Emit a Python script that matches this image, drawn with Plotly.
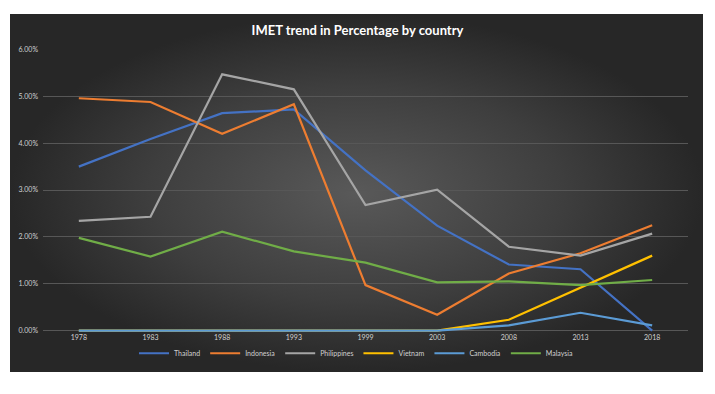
import plotly.graph_objects as go

years = ["1978", "1983", "1988", "1993", "1999", "2003", "2008", "2013", "2018"]
thailand    = [0.0350, 0.0409, 0.0464, 0.0472, 0.0342, 0.0224, 0.0141, 0.0131, 0.0000]
indonesia   = [0.0496, 0.0488, 0.0420, 0.0483, 0.0097, 0.0034, 0.0122, 0.0165, 0.0225]
philippines = [0.0234, 0.0243, 0.0547, 0.0515, 0.0268, 0.0301, 0.0179, 0.0160, 0.0207]
vietnam     = [0.0000, 0.0000, 0.0000, 0.0000, 0.0000, 0.0000, 0.0023, 0.0091, 0.0160]
cambodia    = [0.0000, 0.0000, 0.0000, 0.0000, 0.0000, 0.0000, 0.0011, 0.0038, 0.0011]
malaysia    = [0.0198, 0.0158, 0.0211, 0.0169, 0.0145, 0.0103, 0.0105, 0.0097, 0.0108]

series = [
    ("Thailand", thailand, "#4472C4"),
    ("Indonesia", indonesia, "#ED7D31"),
    ("Philippines", philippines, "#A5A5A5"),
    ("Vietnam", vietnam, "#FFC000"),
    ("Cambodia", cambodia, "#5B9BD5"),
    ("Malaysia", malaysia, "#70AD47"),
]
y_ticks = [0, 0.01, 0.02, 0.03, 0.04, 0.05, 0.06]

FONT = "Lato, 'Open Sans', sans-serif"

# pixel geometry of the value axis (285 px for 6 %)
PX_PER_UNIT = 285 / 0.06
Y_PAD = 0.0004  # small padding below zero so lines at 0 are not clipped

fig = go.Figure()

# background panel with radial gradient
fig.add_trace(go.Scatter(
    x=[0, 1, 1, 0, 0], y=[0, 0, 1, 1, 0],
    xaxis="x", yaxis="y", mode="lines", line=dict(width=0),
    fill="toself",
    fillgradient=dict(type="radial",
                      colorscale=[[0, "#595959"], [0.6, "#3e3e3e"], [1, "#272727"]]),
    hoverinfo="skip", showlegend=False,
))

for name, vals, color in series:
    fig.add_trace(go.Scatter(
        x=years, y=vals, name=name, mode="lines",
        line=dict(color=color, width=2.2),
        xaxis="x2", yaxis="y2",
    ))

fig.update_layout(
    width=715, height=394,
    margin=dict(l=10, r=12, t=9, b=22),
    paper_bgcolor="white",
    plot_bgcolor="rgba(0,0,0,0)",
    font=dict(family=FONT, color="#d0d0d0", size=7),
    title=dict(text="<b>IMET trend in Percentage by country</b>",
               x=0.5, xanchor="center", y=1 - 30 / 394, yanchor="middle",
               font=dict(family=FONT, size=13, color="white")),
    xaxis=dict(domain=[0, 1], range=[0, 1], visible=False, fixedrange=True),
    yaxis=dict(domain=[0, 1], range=[0, 1], visible=False, fixedrange=True),
    xaxis2=dict(domain=[33 / 693, 678 / 693], anchor="y2", type="category",
                range=[-0.5, 8.5], showgrid=False, zeroline=False,
                showline=False, ticks="", tickfont=dict(size=7, color="#d0d0d0")),
    yaxis2=dict(domain=[(42 - Y_PAD * PX_PER_UNIT) / 363, 327 / 363], anchor="x2",
                range=[-Y_PAD, 0.06],
                tickvals=y_ticks, tickformat=".2%", showgrid=True,
                gridcolor="#575757", gridwidth=1, zeroline=False,
                showline=False, ticks="", ticklabelstandoff=4,
                tickfont=dict(size=7, color="#d0d0d0")),
    legend=dict(orientation="h", x=0.5, xanchor="center",
                y=19 / 363, yanchor="middle",
                font=dict(family=FONT, size=7, color="#d0d0d0"),
                bgcolor="rgba(0,0,0,0)", itemwidth=30),
    hovermode=False,
)

fig.write_html("out.html",
               config={"displayModeBar": False},
               post_script="document.body.style.margin='0';")
